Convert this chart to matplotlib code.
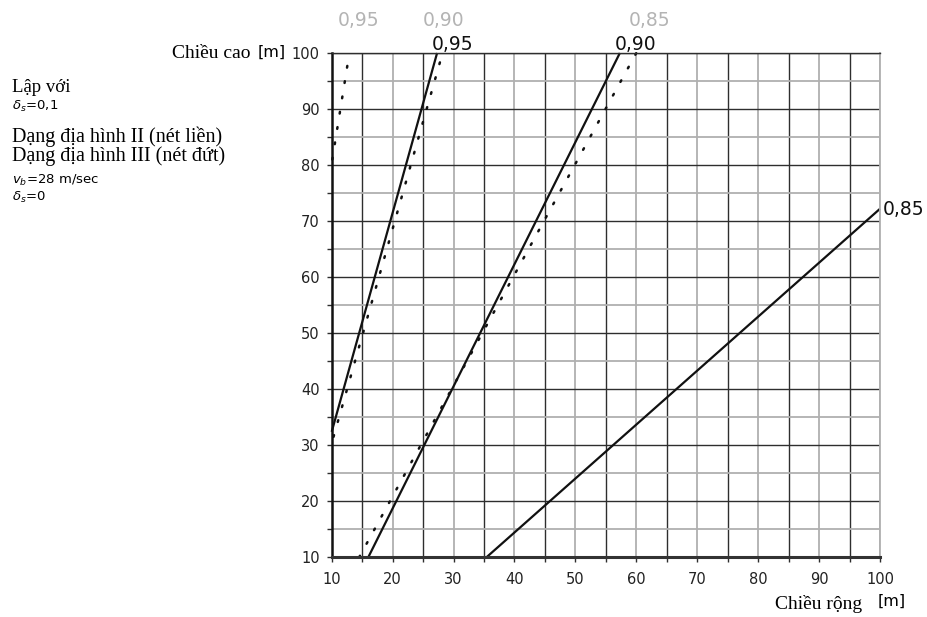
"""
Chart: height vs width of building, iso-lines of the structural factor
(solid = terrain category II, dotted = terrain category III).
"""

import matplotlib
matplotlib.use("Agg")
import matplotlib.pyplot as plt
from matplotlib.ticker import MultipleLocator

W, H = 928, 617

# solid lines (terrain II): end points
solid_labels = ["0,95", "0,90", "0,85"]
solid_x = [[10.0, 27.3], [16.0, 57.3], [35.4, 100.0]]
solid_y = [[32.4, 100.0], [10.0, 100.0], [10.0, 72.2]]

# dotted lines (terrain III)
dotted_labels = ["0,95", "0,90", "0,85"]
dotted_x = [[10.1, 12.9], [10.3, 28.2], [14.5, 60.0]]
dotted_y = [[81.0, 100.0], [31.5, 100.0], [10.0, 100.0]]

x_ticks = [10, 20, 30, 40, 50, 60, 70, 80, 90, 100]
y_ticks = [10, 20, 30, 40, 50, 60, 70, 80, 90, 100]

SANS = "DejaVu Sans"
SERIF = "Liberation Serif"
DARK = "#2e2e2e"
GREY = "#b0b0b0"


def px(x, y):
    """pixel position in the 928x617 image -> figure fraction"""
    return x / W, 1 - y / H


fig = plt.figure(figsize=(W / 100, H / 100), dpi=100)
ax = fig.add_axes([331.7 / W, 1 - 557.3 / H, (880 - 331.7) / W, (557.3 - 53) / H])

ax.set_xlim(10, 100)
ax.set_ylim(10, 100)

# grid: x labelled tens are grey, odd fives dark; y tens dark, fives grey
ax.xaxis.set_major_locator(MultipleLocator(10))
ax.xaxis.set_minor_locator(MultipleLocator(5))
ax.yaxis.set_major_locator(MultipleLocator(10))
ax.yaxis.set_minor_locator(MultipleLocator(5))
ax.set_xticks(x_ticks)
ax.set_yticks(y_ticks)
ax.grid(axis="x", which="major", color=GREY, lw=1.3)
ax.grid(axis="x", which="minor", color=DARK, lw=1.0)
ax.grid(axis="y", which="major", color=DARK, lw=1.0)
ax.grid(axis="y", which="minor", color=GREY, lw=1.3)
ax.set_axisbelow(True)

ax.tick_params(which="both", direction="out", length=3.5, width=1.0, color=DARK)
ax.tick_params(axis="x", pad=7, labelsize=10.5)
ax.tick_params(axis="y", pad=5, labelsize=10.5)
for lab in ax.get_xticklabels() + ax.get_yticklabels():
    lab.set_family(SANS)
    lab.set_color("#222222")

ax.spines["left"].set_color("#111111")
ax.spines["left"].set_linewidth(1.8)
ax.spines["bottom"].set_color("#333333")
ax.spines["bottom"].set_linewidth(2.2)
ax.spines["top"].set_color(DARK)
ax.spines["top"].set_linewidth(1.0)
ax.spines["right"].set_color(GREY)
ax.spines["right"].set_linewidth(1.3)

for xs, ys in zip(solid_x, solid_y):
    ax.plot(xs, ys, color="#111111", lw=1.6, solid_capstyle="butt", clip_on=False)
for xs, ys in zip(dotted_x, dotted_y):
    ax.plot(xs, ys, color="#111111", lw=1.8, linestyle=(0, (0.7, 5.5)),
            dash_capstyle="round", clip_on=False)

# curve labels
for lab, (x, y) in zip(dotted_labels, [(359, 20), (444, 20), (650, 20)]):
    fig.text(*px(x, y), lab, color="#b4b4b4", fontsize=13.5, family=SANS,
             ha="center", va="center")
for lab, (x, y) in zip(solid_labels, [(453, 45), (636, 45), (904, 209)]):
    fig.text(*px(x, y), lab, color="#111111", fontsize=13.5, family=SANS,
             ha="center", va="center")

# axis titles
fig.text(*px(250, 53), "Chiều cao", fontsize=14, family=SERIF, ha="right", va="center")
fig.text(*px(258, 52), "[m]", fontsize=11.5, family=SANS, ha="left", va="center")
fig.text(*px(862, 604), "Chiều rộng", fontsize=14, family=SERIF, ha="right", va="center")
fig.text(*px(878, 601), "[m]", fontsize=11.5, family=SANS, ha="left", va="center")

# notes on the left
fig.text(*px(12, 88), "Lập với", fontsize=13.5, family=SERIF, va="center")
fig.text(*px(12, 106), r"$\delta_s$=0,1", fontsize=9.5, family=SANS, va="center")
fig.text(*px(12, 137), "Dạng địa hình II (nét liền)", fontsize=14.5, family=SERIF, va="center")
fig.text(*px(12, 156), "Dạng địa hình III (nét đứt)", fontsize=14.5, family=SERIF, va="center")
fig.text(*px(12, 180), r"$v_b$=28 m/sec", fontsize=9.5, family=SANS, va="center")
fig.text(*px(12, 197), r"$\delta_s$=0", fontsize=9.5, family=SANS, va="center")

fig.savefig("out.png", dpi=100)
